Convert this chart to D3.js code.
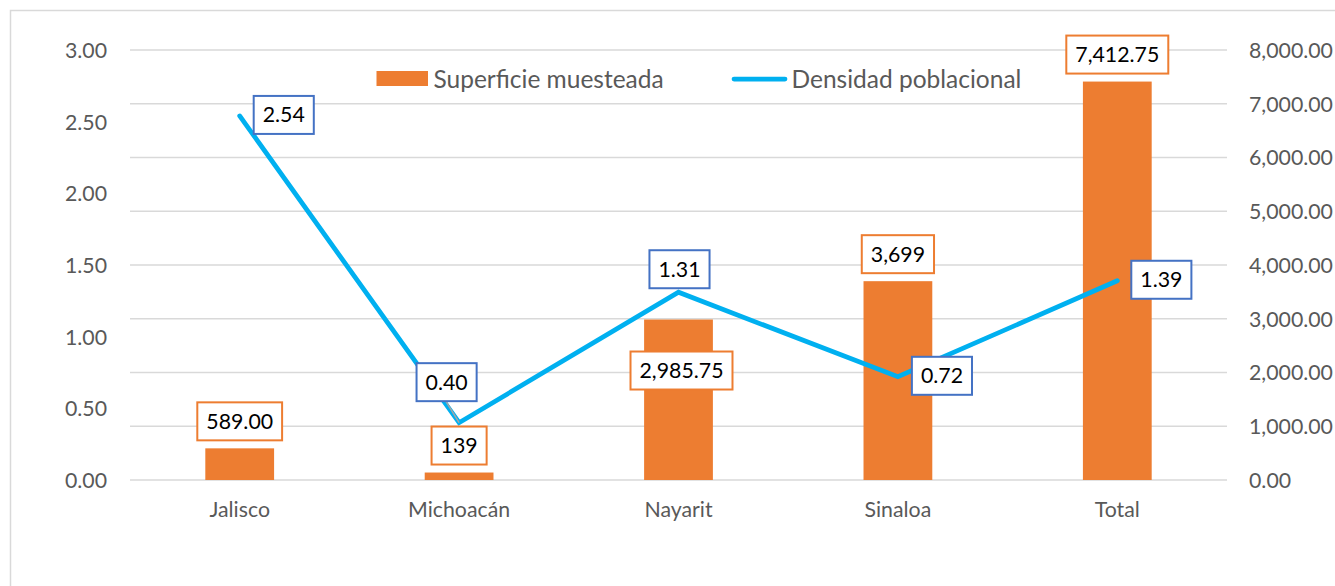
<!DOCTYPE html>
<html>
<head>
<meta charset="utf-8">
<script src="https://cdn.jsdelivr.net/npm/d3@7"></script>
<style>
  body { margin: 0; background: #fff; }
  text { font-family: Lato, "Open Sans", sans-serif; }
</style>
</head>
<body>
<script>
// chart data
const categories = ['Jalisco', 'Michoacán', 'Nayarit', 'Sinaloa', 'Total'];
const superficie = [589.00, 139, 2985.75, 3699, 7412.75];
const superficieLabels = ['589.00', '139', '2,985.75', '3,699', '7,412.75'];
const densidad = [2.54, 0.40, 1.31, 0.72, 1.39];
const leftTicks = [0, 0.5, 1, 1.5, 2, 2.5, 3];
const rightTicks = [0, 1000, 2000, 3000, 4000, 5000, 6000, 7000, 8000];
// where Excel put each data label
const barLabelPlace = ['above', 'above', 'inside', 'above', 'above'];
const lineLabelPlace = ['right', 'upleft', 'above', 'right', 'right'];

const width = 1335, height = 586;
const fontSize = 21.3;
const legendSize = 24.5;
const barColor = '#ED7D31', lineColor = '#00B0F0', boxBlue = '#4472C4';
const axisText = '#595959', gridColor = '#d9d9d9';

const svg = d3.select('body').append('svg')
  .attr('width', width)
  .attr('height', height);

// chart frame (runs off the picture to the right and bottom)
svg.append('rect')
  .attr('x', 10.5).attr('y', 10.5)
  .attr('width', 1400).attr('height', 700)
  .attr('fill', '#fff')
  .attr('stroke', gridColor)
  .attr('stroke-width', 1.5);

const x = d3.scaleBand().domain(categories).range([130, 1227]);
const yLeft = d3.scaleLinear().domain([0, 3]).range([480, 50]);
const yRight = d3.scaleLinear().domain([0, 8000]).range([480, 50]);
const barW = x.bandwidth() / (1 + 2.19); // gap width 219%
const cx = d => x(d) + x.bandwidth() / 2;

// gridlines follow the secondary axis
svg.append('g')
  .selectAll('line')
  .data(rightTicks)
  .join('line')
  .attr('x1', 130).attr('x2', 1227)
  .attr('y1', d => yRight(d)).attr('y2', d => yRight(d))
  .attr('stroke', gridColor)
  .attr('stroke-width', 1.5);

// left axis
const leftAxis = svg.append('g')
  .attr('transform', 'translate(107,0)')
  .call(d3.axisLeft(yLeft).tickValues(leftTicks).tickFormat(d3.format('.2f')).tickSize(0).tickPadding(0));
leftAxis.select('.domain').remove();
leftAxis.selectAll('text')
  .attr('fill', axisText)
  .attr('font-size', fontSize)
  .attr('font-family', 'Lato')
  .attr('dy', '0.35em');

// right axis
const rightAxis = svg.append('g')
  .attr('transform', 'translate(1249,0)')
  .call(d3.axisRight(yRight).tickValues(rightTicks).tickFormat(d3.format(',.2f')).tickSize(0).tickPadding(0));
rightAxis.select('.domain').remove();
rightAxis.selectAll('text')
  .attr('fill', axisText)
  .attr('font-size', fontSize)
  .attr('font-family', 'Lato')
  .attr('dy', '0.35em');

// category axis
const bottomAxis = svg.append('g')
  .attr('transform', 'translate(0,480)')
  .call(d3.axisBottom(x).tickSize(0).tickPadding(22));
bottomAxis.select('.domain').remove();
bottomAxis.selectAll('text')
  .attr('fill', axisText)
  .attr('font-size', fontSize)
  .attr('font-family', 'Lato');

// bars
svg.append('g')
  .selectAll('rect')
  .data(categories)
  .join('rect')
  .attr('x', d => cx(d) - barW / 2)
  .attr('width', barW)
  .attr('y', (d, i) => yRight(superficie[i]))
  .attr('height', (d, i) => yRight(0) - yRight(superficie[i]))
  .attr('fill', barColor);

// line
const linePts = categories.map((c, i) => [cx(c), yLeft(densidad[i])]);
svg.append('path')
  .attr('d', d3.line()(linePts))
  .attr('fill', 'none')
  .attr('stroke', lineColor)
  .attr('stroke-width', 4.75)
  .attr('stroke-linecap', 'round')
  .attr('stroke-linejoin', 'miter');

// legend
const legend = svg.append('g');
legend.append('rect')
  .attr('x', 376.5).attr('y', 71)
  .attr('width', 51.5).attr('height', 15)
  .attr('fill', barColor);
legend.append('text')
  .attr('x', 433.5).attr('y', 87.5)
  .attr('fill', axisText)
  .attr('font-size', legendSize)
  .text('Superficie muesteada');
legend.append('line')
  .attr('x1', 734).attr('x2', 785)
  .attr('y1', 79).attr('y2', 79)
  .attr('stroke', lineColor)
  .attr('stroke-width', 4.75)
  .attr('stroke-linecap', 'round');
legend.append('text')
  .attr('x', 791.5).attr('y', 87.5)
  .attr('fill', axisText)
  .attr('font-size', legendSize)
  .text('Densidad poblacional');

// boxed data label; (bx, by) is the box centre
const boxH = 38;
function boxLabel(g, label, stroke) {
  const t = g.append('text')
    .attr('text-anchor', 'middle')
    .attr('dy', '0.35em')
    .attr('fill', '#000')
    .attr('font-size', fontSize)
    .text(label);
  const w = t.node().getComputedTextLength() + 18;
  g.insert('rect', 'text')
    .attr('x', -w / 2).attr('y', -boxH / 2)
    .attr('width', w).attr('height', boxH)
    .attr('fill', '#fff')
    .attr('stroke', stroke)
    .attr('stroke-width', 2);
  return w;
}

// leader line for the moved Michoacán label
const mi = lineLabelPlace.indexOf('upleft');
svg.append('line')
  .attr('x1', linePts[mi][0] - 13).attr('y1', linePts[mi][1] - 21)
  .attr('x2', linePts[mi][0]).attr('y2', linePts[mi][1])
  .attr('stroke', '#a6a6a6')
  .attr('stroke-width', 1.5);

// bar labels
categories.forEach((c, i) => {
  const g = svg.append('g');
  const w = boxLabel(g, superficieLabels[i], barColor);
  const top = yRight(superficie[i]);
  let bx = cx(c), by = top - 8 - boxH / 2;
  if (barLabelPlace[i] === 'inside') { bx = cx(c) + 3; by = top + 51; }
  g.attr('transform', `translate(${bx},${by})`);
});

// line labels
categories.forEach((c, i) => {
  const g = svg.append('g');
  const w = boxLabel(g, d3.format('.2f')(densidad[i]), boxBlue);
  const [px, py] = linePts[i];
  let bx, by;
  if (lineLabelPlace[i] === 'right') { bx = px + 14 + w / 2; by = py - 1; }
  else if (lineLabelPlace[i] === 'above') { bx = px + 1; by = py - 4 - boxH / 2; }
  else { bx = px - 12.5; by = py - 40.5; }
  g.attr('transform', `translate(${bx},${by})`);
});
</script>
</body>
</html>
